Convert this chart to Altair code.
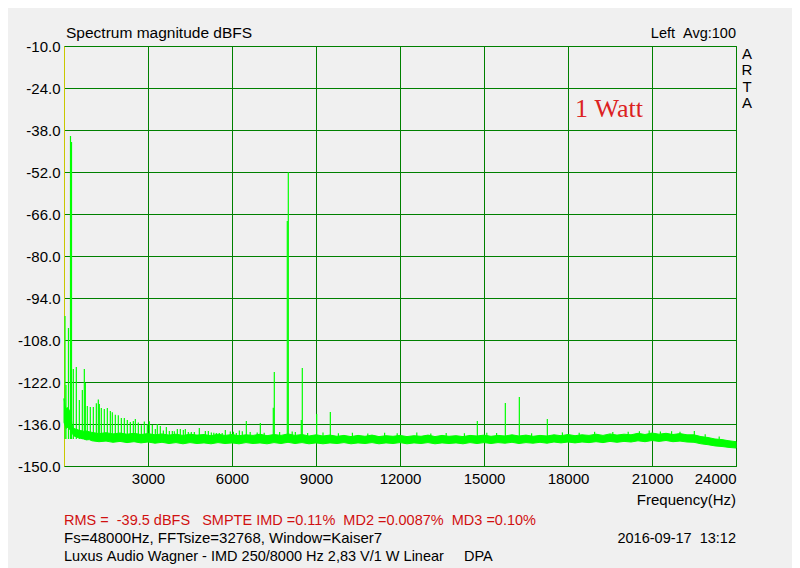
import altair as alt
import pandas as pd

FONT = "Liberation Sans"
GRID = "#008000"
TRACE = "#00ff00"

# ---- noise floor band (Hz, upper edge dBFS, lower edge dBFS) ----
FLOOR_FREQ = [0, 40, 80, 120, 160, 200, 240, 280, 320, 360, 440, 520, 600, 700, 800, 900,
              1000, 1250, 1500, 1750, 2000, 2250, 2500, 2750, 3000, 3250, 3500, 3750,
              4000, 4250, 4500, 4750, 5000, 5250, 5500, 5750, 6000, 6250, 6500, 6750,
              7000, 7250, 7500, 7750, 8000, 8250, 8500, 8750, 9000, 9250, 9500, 9750,
              10000, 10250, 10500, 10750, 11000, 11250, 11500, 11750, 12000, 12250, 12500, 12750,
              13000, 13250, 13500, 13750, 14000, 14250, 14500, 14750, 15000, 15250, 15500, 15750,
              16000, 16250, 16500, 16750, 17000, 17250, 17500, 17750, 18000, 18250, 18500, 18750,
              19000, 19250, 19500, 19750, 20000, 20250, 20500, 20750, 21000, 21250, 21500, 21750,
              22000, 22250, 22500, 22750, 23000, 23250, 23500, 23750, 24000]
FLOOR_HI = [-127.5, -130.0, -131.0, -130.5, -131.0, -131.5, -132.0, -136.0, -137.0, -137.5, -137.8, -138.0, -138.2, -138.4, -138.3, -138.6,
            -138.8, -139.2, -138.9, -139.3, -139.0, -139.4, -139.1, -139.5, -139.2, -139.6, -139.3, -139.7,
            -139.4, -139.8, -139.4, -139.7, -139.5, -139.9, -139.4, -139.8, -139.5, -139.9, -139.6, -139.8,
            -139.4, -139.9, -139.5, -139.8, -139.3, -139.8, -139.5, -140.0, -139.6, -140.0, -139.7, -140.1,
            -139.8, -140.2, -139.8, -140.1, -139.7, -140.2, -139.9, -140.1, -139.8, -140.2, -139.9, -140.1,
            -139.7, -140.2, -139.8, -140.1, -139.9, -140.2, -139.8, -140.0, -139.7, -140.1, -139.8, -140.0,
            -139.6, -140.0, -139.7, -140.1, -139.8, -140.0, -139.6, -139.9, -139.5, -139.9, -139.6, -139.8,
            -139.4, -139.8, -139.3, -139.7, -139.4, -139.6, -139.1, -139.5, -139.0, -139.4, -139.1, -139.5,
            -139.2, -139.6, -139.6, -140.2, -140.5, -141.0, -141.2, -141.6, -141.9]
FLOOR_LO = [-135.5, -136.5, -137.5, -137.0, -137.5, -137.8, -138.0, -139.0, -139.5, -140.0, -140.3, -140.6, -140.8, -141.0, -141.3, -141.2,
            -141.6, -141.9, -141.7, -142.1, -141.8, -142.2, -141.9, -142.3, -142.0, -142.4, -142.1, -142.5,
            -142.2, -142.6, -142.2, -142.5, -142.3, -142.6, -142.2, -142.5, -142.3, -142.6, -142.2, -142.5,
            -142.3, -142.6, -142.2, -142.5, -142.1, -142.5, -142.2, -142.6, -142.3, -142.6, -142.3, -142.5,
            -142.2, -142.6, -142.3, -142.5, -142.2, -142.6, -142.3, -142.5, -142.2, -142.6, -142.3, -142.5,
            -142.2, -142.6, -142.3, -142.5, -142.3, -142.6, -142.2, -142.5, -142.2, -142.5, -142.2, -142.4,
            -142.1, -142.5, -142.2, -142.4, -142.1, -142.4, -142.0, -142.3, -142.0, -142.3, -142.0, -142.2,
            -141.9, -142.2, -141.8, -142.1, -141.8, -142.0, -141.6, -141.9, -141.5, -141.8, -141.5, -141.9,
            -141.7, -142.0, -142.1, -142.6, -142.9, -143.3, -143.5, -143.8, -144.0]

# ---- discrete spectral lines (Hz, peak dBFS) ----
SPIKE_FREQ = [36, 70, 160, 232, 268, 333, 440, 548, 655, 726, 762, 833, 940, 1048, 1155, 1226,
              1262, 1333, 1440, 1548, 1655, 1726, 1833, 1940, 2048, 2155, 2262, 2369, 2476, 2548,
              2655, 2762, 2869, 2976, 3048, 3155, 3262, 3333, 3440, 3548, 3655, 3762, 3869, 3940,
              4048, 4155, 4262, 4333, 4440, 4548, 4655, 4833, 5048, 5155, 5262, 5440, 5548, 5762,
              5940, 6155, 6262, 6369, 6512, 7012, 7475, 7511, 7975, 8011, 8262, 8475, 8511, 9024,
              9512, 14762, 15762, 16262, 17262, 22512]
SPIKE_DB = [-100.0, -123.0, -104.0, -40.0, -42.0, -117.7, -117.0, -128.0, -124.7, -117.7, -122.3, -130.0, -130.3, -130.3, -129.1, -127.8,
            -129.3, -130.7, -131.0, -130.7, -131.7, -132.1, -132.9, -133.1, -134.0, -134.0, -134.7, -135.3, -135.0, -134.3,
            -135.5, -136.4, -135.2, -136.0, -135.1, -136.3, -137.7, -136.0, -136.7, -138.2, -137.0, -138.3, -138.3, -138.4,
            -137.7, -137.7, -138.0, -137.7, -138.7, -138.7, -138.7, -137.3, -138.3, -138.3, -138.8, -139.0, -139.0, -138.0,
            -138.5, -139.0, -138.2, -138.4, -135.0, -135.7, -130.6, -118.7, -68.3, -52.1, -138.7, -134.7, -117.3, -132.7,
            -132.0, -135.0, -129.0, -127.0, -134.3, -138.3]

# ---- small noise peaks on top of the floor ----
GRASS_FREQ = [5350, 5650, 6050, 6650, 6900, 7150, 7700, 8150, 8700, 9250, 9800, 10300, 10850, 11450,
              11900, 12600, 13100, 13650, 14300, 15100, 15450, 16700, 17800, 18400, 18950, 19600,
              20150, 20550, 20900, 21300, 21700, 22000, 22900, 23400]
GRASS_DB = [-138.9, -139.0, -138.6, -138.7, -138.8, -138.9, -138.7, -138.5, -139.0, -138.8, -139.1, -138.9,
            -139.2, -138.9, -139.1, -138.8, -139.2, -139.0, -139.1, -138.9, -139.0, -139.1, -138.8, -138.9,
            -138.6, -138.7, -138.6, -138.4, -138.2, -138.5, -138.4, -138.6, -139.4, -140.2]

Y_TICKS = [-150.0, -136.0, -122.0, -108.0, -94.0, -80.0, -66.0, -52.0, -38.0, -24.0, -10.0]
X_TICKS = [3000, 6000, 9000, 12000, 15000, 18000, 21000, 24000]

TITLE = "Spectrum magnitude dBFS"
CHANNEL = "Left  Avg:100"
ARTA = ["A", "R", "T", "A"]
WATT = "1 Watt"
XLABEL = "Frequency(Hz)"
RESULTS = "RMS =  -39.5 dBFS   SMPTE IMD =0.11%  MD2 =0.0087%  MD3 =0.10%"
SETTINGS = "Fs=48000Hz, FFTsize=32768, Window=Kaiser7"
DATE = "2016-09-17  13:12"
CAPTION = "Luxus Audio Wagner - IMD 250/8000 Hz 2,83 V/1 W Linear     DPA"

floor_df = pd.DataFrame({"f": FLOOR_FREQ, "hi": FLOOR_HI, "lo": FLOOR_LO})
spike_df = pd.DataFrame({"f": SPIKE_FREQ + GRASS_FREQ, "db": SPIKE_DB + GRASS_DB})

xscale = alt.Scale(domain=[0, 24000], nice=False, zero=False)
yscale = alt.Scale(domain=[-150, -10], nice=False, zero=False)

x_axis = alt.Axis(values=X_TICKS, format="d", title=None, ticks=False, grid=True,
                  gridColor=GRID, gridWidth=1, domainColor=GRID, domainWidth=1,
                  labelFont=FONT, labelFontSize=15, labelColor="black", labelPadding=5)
y_axis = alt.Axis(values=Y_TICKS, title=None, ticks=False, grid=True,
                  labelExpr="'-' + format(-datum.value, '.1f')",
                  gridColor=GRID, gridWidth=1, domainColor="#c8c800", domainWidth=1,
                  labelFont=FONT, labelFontSize=15, labelColor="black", labelPadding=4)

band = alt.Chart(floor_df).mark_area(color=TRACE, opacity=1, stroke=TRACE, strokeWidth=1).encode(
    x=alt.X("f:Q", scale=xscale, axis=x_axis),
    y=alt.Y("hi:Q", scale=yscale, axis=y_axis),
    y2="lo:Q",
)

spikes = alt.Chart(spike_df).mark_rule(color=TRACE, strokeWidth=1.2).encode(
    x=alt.X("f:Q", scale=xscale),
    y=alt.Y("db:Q", scale=yscale),
    y2=alt.datum(-141),
)


def keep_spaces(s):
    if isinstance(s, list):
        return s
    return s.replace(" ", "\u00a0")


def label(text, x, y, align="left", color="black", size=15, font=FONT, **kw):
    return alt.Chart(pd.DataFrame({"t": [0]})).mark_text(
        text=keep_spaces(text), x=x, y=y, align=align, baseline="alphabetic", color=color,
        fontSize=size, font=font, **kw)


texts = [
    label(TITLE, 2, -8, size=15.5),
    label(CHANNEL, 672, -8, align="right", size=14.5),
    label(ARTA, 683, 13, align="center", lineHeight=16.3),
    label(WATT, 511, 71, color="#dc2222", size=26, font="Liberation Serif"),
    label(XLABEL, 672, 459, align="right"),
    label(RESULTS, 0, 479, color="#d01010", size=14.5),
    label(SETTINGS, 0, 497),
    label(DATE, 672, 497, align="right", size=14.5),
    label(CAPTION, 0, 515, size=14.5),
]

chart = alt.layer(band, spikes, *texts).properties(
    width=672,
    height=420,
    background="#f0f0f0",
    padding={"left": 56, "top": 38, "right": 56, "bottom": 102},
    autosize=alt.AutoSizeParams(type="none"),
).configure_view(fill="black", stroke=GRID, strokeWidth=1)

chart.save("out.html", embed_options={"renderer": "svg", "actions": False})
